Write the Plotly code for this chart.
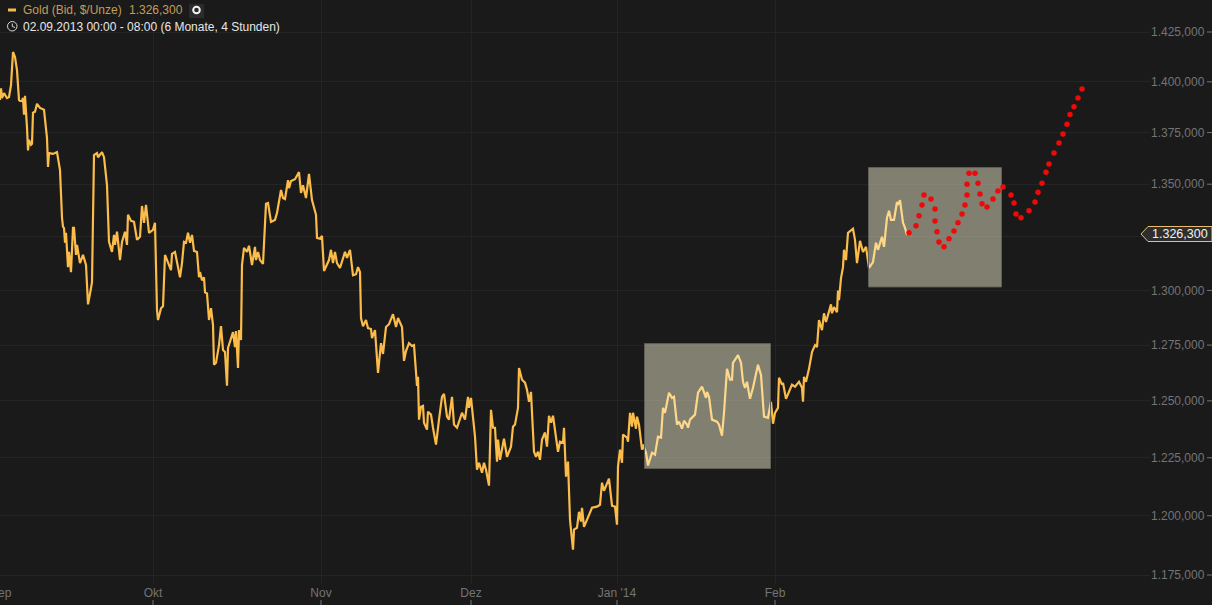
import math
import plotly.graph_objects as go

gold_x = [0,1,2,4,7,9,11,13,15,17,19,20,22,23,24,25,27,28,29,31,32,33,35,37,40,44,47,48,49,53,57,60,62,63,64,65,66,68,69,71,73,74,76,77,80,83,86,88,91,92,94,97,98,102,104,107,109,112,114,115,117,120,122,125,127,128,131,134,137,140,142,144,146,149,153,155,157,158,161,163,165,168,171,172,175,180,182,184,186,188,190,192,194,197,199,200,202,204,205,207,209,211,213,214,216,219,221,223,225,227,228,233,235,236,238,239,241,242,244,247,249,252,255,256,258,260,263,266,268,271,275,277,281,283,285,288,289,291,295,299,301,303,306,309,312,316,317,320,322,324,327,329,331,333,335,337,340,345,347,350,353,356,358,360,361,363,366,368,371,372,375,378,381,383,386,389,393,396,398,402,404,406,409,412,414,417,418,419,421,423,424,427,428,431,433,436,439,442,444,447,449,452,454,457,462,465,468,469,471,472,475,477,479,482,484,486,489,491,493,495,497,498,500,504,507,511,512,513,515,517,518,519,522,525,527,529,531,532,534,536,538,540,542,545,547,549,551,553,555,558,560,563,564,566,568,570,573,574,577,579,581,582,584,588,592,597,600,602,604,609,612,615,617,618,620,622,623,627,628,630,632,633,636,637,639,642,643,646,648,652,655,658,661,663,665,669,672,674,677,679,682,684,687,688,690,695,698,702,706,707,709,712,717,719,722,724,727,730,732,733,738,741,743,745,747,750,753,758,761,764,768,771,773,775,778,779,782,783,786,792,795,799,802,803,804,806,809,812,815,817,819,822,824,826,831,832,834,837,838,839,841,843,844,846,848,853,855,857,860,863,866,869,873,876,878,882,884,887,889,891,894,897,898,900,903,905,907]
gold_y = [1391,1396.8,1392,1394.4,1392,1392.5,1398.3,1414.9,1412.4,1405.8,1391,1390.5,1390.5,1392,1383.8,1393,1377.4,1366.3,1371.4,1369,1369.5,1384.7,1385.2,1389.1,1387.1,1386.2,1372.3,1358.3,1365,1364.6,1365.5,1356.8,1334,1329.7,1329.2,1322.2,1326.9,1310.8,1317.9,1308.5,1329.2,1329.2,1316.5,1321.2,1312.7,1316.5,1311.8,1293.6,1301,1303.8,1364,1365,1363,1365.5,1363,1349.5,1322.6,1317.9,1325.9,1321.2,1327.4,1314.1,1322.6,1327.4,1321.2,1335.4,1332.5,1332.1,1323.6,1325,1339.6,1331.6,1340.1,1326.9,1328.3,1331.6,1290.9,1286.4,1291.8,1292.7,1316.5,1313.2,1309.4,1317,1317.9,1306.1,1312.7,1322.6,1322.2,1326.9,1322.2,1325.9,1318.4,1317.9,1306.1,1308.5,1304.7,1306.1,1299.1,1298.6,1286.4,1291.8,1284.1,1266.1,1267,1275,1283.6,1272.8,1271.9,1256.7,1273.7,1280.9,1274.1,1281.4,1264.7,1281.8,1277.3,1311.8,1319.8,1317.9,1320.8,1311.8,1320.3,1314.1,1317.9,1314.1,1312.3,1340.6,1341,1332.1,1333,1336.3,1347.2,1343.4,1342.9,1351.9,1348.1,1351.5,1352.4,1355.8,1345.8,1349.5,1343.4,1354.9,1342.4,1335.4,1324.5,1324.1,1325.5,1309,1311.8,1314.1,1318.9,1312.7,1317.9,1312.7,1310.4,1317.9,1315.1,1318.9,1307,1307.5,1310.8,1308.5,1287.3,1283.6,1286.4,1282.7,1282.3,1278.2,1281.8,1262.5,1275.9,1271,1283.2,1284.5,1289.1,1283.2,1287.3,1283.2,1267.9,1272.3,1275.9,1274.6,1275,1256.7,1260.7,1241.7,1247.4,1247.8,1240.3,1237.3,1245.2,1243.9,1238.1,1230.7,1241.7,1251.8,1253.1,1243,1241.7,1251.8,1239.5,1238.1,1244.7,1241.7,1251.8,1246.9,1251.3,1246.9,1234.2,1219.8,1222.8,1218.5,1222.8,1219.8,1212.9,1246,1238.1,1238.1,1223.3,1232.9,1224.1,1233.3,1225.4,1229.8,1236.4,1238.6,1239.5,1246,1246.9,1264.7,1259.4,1258.1,1254.9,1249.6,1254,1244.7,1227.6,1225.4,1227.6,1224.1,1232.9,1236,1229.8,1243.4,1240.3,1243.4,1236.4,1227.6,1232,1231.6,1238.1,1216.8,1223.3,1198.3,1185.6,1194.1,1194.9,1201.7,1197.5,1203.4,1195.3,1199.2,1203.4,1203.9,1204.7,1214.2,1210.7,1215.9,1204.3,1203.9,1196.2,1221.1,1228.5,1222.8,1235.1,1233.8,1232,1244.7,1238.6,1244.7,1237.7,1243,1239.5,1228.5,1230.7,1227.2,1221.6,1227.2,1226.3,1234.2,1233.8,1246.9,1244.7,1253.6,1251.3,1251.8,1239.5,1240.8,1237.7,1241.2,1239.5,1238.1,1241.7,1243.9,1253.6,1256.3,1251.3,1254,1251.8,1241.7,1240.8,1239.5,1234.6,1244.7,1264.3,1259.4,1259.4,1267,1270.5,1267,1258.5,1255.8,1258.5,1250.9,1255.8,1266.1,1261.6,1243,1242.5,1249.6,1239.9,1244.7,1246.9,1260.3,1257.2,1258,1250.9,1257.2,1256.3,1258.5,1255.8,1249.6,1260.7,1258.5,1264.3,1271.9,1275,1274.1,1286.4,1281.8,1289.5,1285.5,1293.6,1289.5,1292.3,1290,1300,1295.5,1305.7,1310.8,1318.9,1314.1,1326.9,1328.8,1323.6,1312.7,1323.1,1317.9,1320.3,1310.4,1313.2,1322.2,1318.9,1325,1320.3,1334,1337.3,1333,1333,1341.5,1340.1,1342.4,1331.6,1329.2,1325.9]

forecast_x = [909,916,919,922,924,931,935,935,937,939,944,949,954,958,962,965,967,967,969,975,978,980,982,987,993,998,1003,1011,1014,1016,1021,1029,1035,1038,1042,1046,1049,1054,1059,1063,1067,1070,1074,1078,1082]
forecast_y = [1326.9,1330.2,1334.9,1340.1,1344.8,1342.9,1338.2,1332.5,1327.4,1322.6,1320.3,1324.1,1327.8,1331.6,1335.8,1340.1,1344.8,1350,1355.3,1355.3,1350.5,1345.3,1340.6,1339.1,1342.9,1346.7,1348.6,1344.8,1341,1335.8,1334,1337.3,1341.5,1346.2,1350.5,1355.8,1359.7,1365,1369.9,1374.3,1379.1,1383.8,1387.6,1392,1396.4]

box_a_x = [644.5,770.5,770.5,644.5,644.5]
box_a_y = [1220.3,1220.3,1275.7,1275.7,1220.3]
box_b_x = [868.5,1001.5,1001.5,868.5,868.5]
box_b_y = [1301.6,1301.6,1358,1358,1301.6]

y_ticks = [1425,1400,1375,1350,1325,1300,1275,1250,1225,1200,1175]
y_labels = ["1.425,000","1.400,000","1.375,000","1.350,000","","1.300,000","1.275,000","1.250,000","1.225,000","1.200,000","1.175,000"]
x_ticks = [153,321,471,617,775]
x_labels = ["Okt","Nov","Dez","Jan '14","Feb"]
first_month_label = "Sep"

W, H = 1212, 605
PLOT_R, PLOT_B = 1150, 584
PX_PER_LN = 2815
TOP_PX = 32
LN10 = math.log(10)
y_lo = math.log10(1425) - (PLOT_B - TOP_PX) / PX_PER_LN / LN10
y_hi = math.log10(1425) + TOP_PX / PX_PER_LN / LN10

BG = "#1a1a1a"
GRID = "#242424"
AXIS_TXT = "#747474"
GOLD = "#fbbc4a"
FONT = "Liberation Sans"

def px(x): return x / W
def py(y): return 1 - y / H

fig = go.Figure()
fig.add_trace(go.Scatter(x=gold_x, y=gold_y, mode="lines", line=dict(color=GOLD, width=2.2), hoverinfo="skip"))
for bx, by in ((box_a_x, box_a_y), (box_b_x, box_b_y)):
    fig.add_trace(go.Scatter(x=bx, y=by, mode="lines", fill="toself",
                             fillcolor="rgba(255,250,217,0.45)",
                             line=dict(color="#5f5f58", width=1), hoverinfo="skip"))
fig.add_trace(go.Scatter(x=forecast_x, y=forecast_y, mode="markers",
                         marker=dict(color="#ee0a0a", size=5.5), hoverinfo="skip"))

shapes = []
for v in y_ticks:
    shapes.append(dict(type="line", xref="paper", yref="y", x0=px(1207), x1=px(1212), y0=v, y1=v,
                       line=dict(color=AXIS_TXT, width=1)))
for v in x_ticks:
    shapes.append(dict(type="line", xref="x", yref="paper", x0=v, x1=v, y0=py(600), y1=py(605),
                       line=dict(color=AXIS_TXT, width=1)))
# current-value tag
path = f"M {px(1141)} {py(234)} L {px(1148)} {py(226.5)} L {px(1212)} {py(226.5)} L {px(1212)} {py(241.5)} L {px(1148)} {py(241.5)} Z"
shapes.append(dict(type="path", xref="paper", yref="paper", path=path,
                   fillcolor="#2e2e2e", line=dict(color="#e8bd74", width=1)))
# legend swatch
shapes.append(dict(type="rect", xref="paper", yref="paper", x0=px(8), x1=px(16), y0=py(11.5), y1=py(8.5),
                   fillcolor="#f6b950", line=dict(width=0)))
# toggle button
shapes.append(dict(type="rect", xref="paper", yref="paper", x0=px(189), x1=px(204), y0=py(18), y1=py(4),
                   fillcolor="#2b2b2b", line=dict(width=0)))
shapes.append(dict(type="circle", xref="paper", yref="paper", x0=px(193.2), x1=px(199.8), y0=py(13.3), y1=py(6.7),
                   fillcolor="#2b2b2b", line=dict(color="#f4f4f4", width=2)))
# clock icon
shapes.append(dict(type="circle", xref="paper", yref="paper", x0=px(7.5), x1=px(17), y0=py(31), y1=py(21.5),
                   fillcolor=BG, line=dict(color="#d8d8d8", width=1)))
shapes.append(dict(type="path", xref="paper", yref="paper",
                   path=f"M {px(12.3)} {py(23.5)} L {px(12.3)} {py(26.5)} L {px(15)} {py(27.5)}",
                   line=dict(color="#d8d8d8", width=1)))

def note(x, y, text, color, size=12):
    return dict(xref="paper", yref="paper", x=px(x), y=py(y), text=text, showarrow=False,
                xanchor="left", yanchor="middle", font=dict(family=FONT, size=size, color=color))

annotations = [
    note(21, 10, "Gold (Bid, $/Unze)", "#c79c55"),
    note(127, 10, "1.326,300", "#c79c55"),
    note(21, 26.5, "02.09.2013 00:00 - 08:00 (6 Monate, 4 Stunden)", "#e6e6e6"),
    note(1150, 234, "1.326,300", "#f2f2f2", 12.5),
    note(-12, 593, first_month_label, AXIS_TXT),
]

fig.update_layout(
    width=W, height=H, showlegend=False,
    paper_bgcolor=BG, plot_bgcolor=BG,
    margin=dict(l=0, r=0, t=0, b=0),
    font=dict(family=FONT, size=12, color=AXIS_TXT),
    xaxis=dict(domain=[0, PLOT_R / W], range=[0, PLOT_R], tickmode="array", tickvals=x_ticks, ticktext=x_labels,
               showgrid=True, gridcolor=GRID, gridwidth=1, zeroline=False, showline=False, ticks="",
               tickfont=dict(family=FONT, size=12, color=AXIS_TXT)),
    yaxis=dict(domain=[1 - PLOT_B / H, 1], type="log", range=[y_lo, y_hi], side="right",
               tickmode="array", tickvals=y_ticks, ticktext=y_labels,
               showgrid=True, gridcolor=GRID, gridwidth=1, zeroline=False, showline=False, ticks="",
               tickfont=dict(family=FONT, size=12, color=AXIS_TXT)),
    shapes=shapes, annotations=annotations,
)

fig.write_html("out.html", config=dict(displayModeBar=False),
               post_script="document.body.style.margin='0';document.body.style.overflow='hidden';")
